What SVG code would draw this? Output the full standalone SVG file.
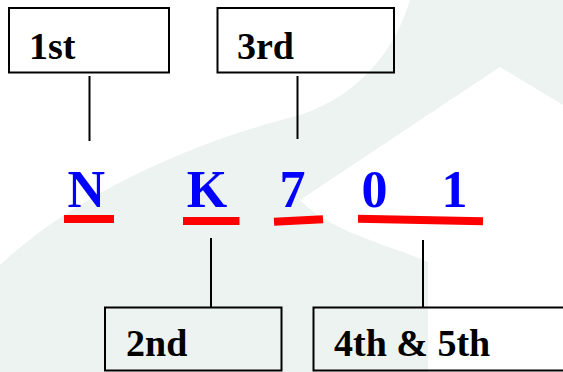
<svg xmlns="http://www.w3.org/2000/svg" width="563" height="372" viewBox="0 0 563 372">
  <style>
    .box { fill: none; stroke: #000; stroke-width: 2; }
    .lbl { font-size: 38px; fill: #000; }
    .ch { font-size: 52px; fill: #0000ff; text-anchor: middle; }
    .ul { stroke: #ff0000; stroke-width: 8; fill: none; }
    .conn { stroke: #000; stroke-width: 2; fill: none; }
    .wm { fill: #edf3f0; }
  </style>
  <rect x="0" y="0" width="563" height="372" fill="#ffffff"/>
  <g id="background">
    <path class="wm" d="M0,265 C80,190 200,140 300,115 C360,95 395,50 410,0 L563,0 L563,105 L500,67 L300,200 C330,232 390,245 428,262 L428,372 L0,372 Z"/>
  </g>
  <g id="connectors">
    <line class="conn" x1="89.5" y1="76" x2="89.5" y2="141"/>
    <line class="conn" x1="297.5" y1="76" x2="297.5" y2="139"/>
    <line class="conn" x1="211" y1="238" x2="211" y2="307"/>
    <line class="conn" x1="423" y1="240" x2="423" y2="307"/>
  </g>
  <g font-family="'Liberation Serif', 'Times New Roman', Times, serif" font-weight="bold">
    <g id="node-1st">
      <rect class="box" x="9" y="8" width="160" height="64.5"/>
      <text class="lbl" x="29" y="58.5">1st</text>
    </g>
    <g id="node-3rd">
      <rect class="box" x="217.5" y="8" width="176.5" height="64.5"/>
      <text class="lbl" x="237" y="58.5">3rd</text>
    </g>
    <g id="node-2nd">
      <rect class="box" x="105" y="307.5" width="176.5" height="63"/>
      <text class="lbl" x="126" y="356">2nd</text>
    </g>
    <g id="node-4th5th">
      <rect class="box" x="313.5" y="307.5" width="260" height="63"/>
      <text class="lbl" x="334" y="356">4th &amp; 5th</text>
    </g>
    <g id="node-N">
      <text class="ch" x="86.2" y="206.5">N</text>
      <line class="ul" x1="64" y1="219" x2="114" y2="219"/>
    </g>
    <g id="node-K">
      <text class="ch" x="207" y="206.5">K</text>
      <line class="ul" x1="183" y1="221" x2="239.5" y2="221"/>
    </g>
    <g id="node-7">
      <text class="ch" x="292.5" y="206.5">7</text>
      <line class="ul" x1="274" y1="221.7" x2="323" y2="219.2"/>
    </g>
    <g id="node-01">
      <text class="ch" x="374.5" y="206.5">0</text>
      <text class="ch" x="454.5" y="206.5">1</text>
      <line class="ul" x1="358" y1="218.8" x2="483" y2="221.2"/>
    </g>
  </g>
</svg>
